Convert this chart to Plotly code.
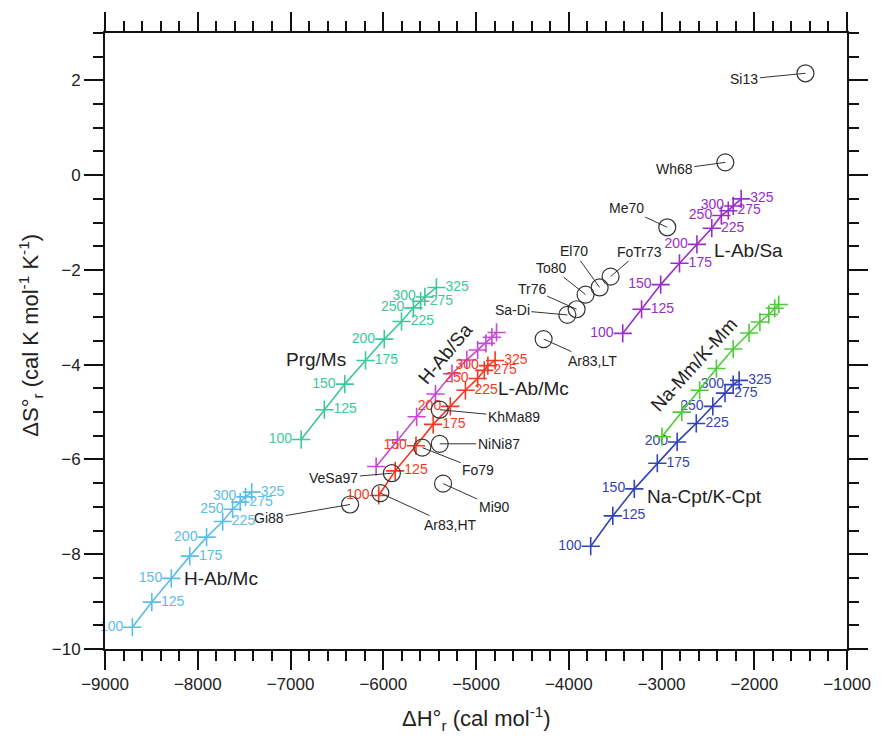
import plotly.graph_objects as go

# Temperatures (°C) marked along each reaction curve
temps = [100, 125, 150, 175, 200, 225, 250, 275, 300, 325]

# ΔH°r (cal/mol) and ΔS°r (cal/K/mol) for each reaction
habmc_h = [-8705, -8495, -8285, -8086, -7905, -7731, -7624, -7542, -7485, -7418]
habmc_s = [-9.54, -9.01, -8.51, -8.04, -7.64, -7.31, -7.05, -6.90, -6.79, -6.69]

prgms_h = [-6885, -6635, -6415, -6191, -5989, -5803, -5675, -5597, -5551, -5427]
prgms_s = [-5.58, -4.95, -4.41, -3.91, -3.46, -3.09, -2.80, -2.66, -2.57, -2.37]

habsa_h = [-6077, -5846, -5640, -5437, -5259, -5099, -4982, -4893, -4829, -4779]
habsa_s = [-6.15, -5.59, -5.10, -4.62, -4.19, -3.90, -3.69, -3.55, -3.42, -3.32]

labmc_h = [-6049, -5871, -5647, -5462, -5277, -5114, -4982, -4911, -4872, -4794]
labmc_s = [-6.76, -6.24, -5.71, -5.26, -4.88, -4.54, -4.29, -4.12, -4.02, -3.91]

labsa_h = [-3418, -3215, -3009, -2806, -2618, -2458, -2355, -2280, -2227, -2141]
labsa_s = [-3.34, -2.83, -2.31, -1.86, -1.46, -1.12, -0.85, -0.75, -0.65, -0.50]

cpt_h = [-3763, -3525, -3293, -3045, -2831, -2625, -2447, -2315, -2227, -2163]
cpt_s = [-7.83, -7.19, -6.62, -6.08, -5.63, -5.24, -4.88, -4.60, -4.42, -4.33]

mm_h = [-2995, -2781, -2589, -2408, -2227, -2056, -1939, -1843, -1779, -1736]
mm_s = [-5.52, -5.00, -4.54, -4.08, -3.67, -3.33, -3.10, -2.94, -2.81, -2.73]

# Literature determinations (open circles)
lit_names = ["Si13", "Wh68", "Me70", "FoTr73", "El70", "To80", "Tr76", "Sa-Di",
             "Ar83,LT", "KhMa89", "NiNi87", "Fo79", "VeSa97", "Mi90", "Ar83,HT", "Gi88"]
lit_h = [-1448, -2312, -2938, -3549, -3667, -3819, -3915, -4015,
         -4271, -5391, -5391, -5579, -5907, -5355, -6031, -6358]
lit_s = [2.15, 0.27, -1.10, -2.14, -2.37, -2.52, -2.83, -2.95,
         -3.46, -4.95, -5.67, -5.75, -6.29, -6.51, -6.71, -6.95]

# Pixel offsets of each literature label from its circle
lit_offsets = {
    "Si13": (-61, 6), "Wh68": (-51, 7), "Me70": (-41, -19), "FoTr73": (29, -25),
    "El70": (-26, -36), "To80": (-34, -27), "Tr76": (-45, -20), "Sa-Di": (-55, -5),
    "Ar83,LT": (49, 22), "KhMa89": (74, 7), "NiNi87": (59, 0), "Fo79": (56, 22),
    "VeSa97": (-58, 5), "Mi90": (51, 23), "Ar83,HT": (70, 32), "Gi88": (-81, 14),
}

series = [
    # name, H, S, color, show temperature labels
    ("H-Ab/Mc", habmc_h, habmc_s, "#5BBDE8", True),
    ("Prg/Ms", prgms_h, prgms_s, "#3CC89A", True),
    ("H-Ab/Sa", habsa_h, habsa_s, "#C848D8", False),
    ("L-Ab/Mc", labmc_h, labmc_s, "#F03A22", True),
    ("L-Ab/Sa", labsa_h, labsa_s, "#9A2CC8", True),
    ("Na-Cpt/K-Cpt", cpt_h, cpt_s, "#3444B4", True),
    ("Na-Mm/K-Mm", mm_h, mm_s, "#4CCC38", False),
]

# Reaction name labels: (text, H, S, angle)
series_labels = [
    ("H-Ab/Mc", -7752, -8.52, 0),
    ("Prg/Ms", -6728, -3.88, 0),
    ("H-Ab/Sa", -5330, -3.76, -50),
    ("L-Ab/Mc", -4381, -4.50, 0),
    ("L-Ab/Sa", -2067, -1.58, 0),
    ("Na-Mm/K-Mm", -2650, -4.00, -48),
    ("Na-Cpt/K-Cpt", -2536, -6.79, 0),
]

FONT = "Liberation Sans, Arial, sans-serif"

fig = go.Figure()

for name, hs, ss, color, labelled in series:
    pos = ["middle left" if i % 2 == 0 else "middle right" for i in range(len(temps))]
    fig.add_trace(go.Scatter(
        x=hs, y=ss,
        mode="lines+markers+text" if labelled else "lines+markers",
        name=name,
        line=dict(color=color, width=1.6),
        marker=dict(symbol="cross-thin", size=13, line=dict(color=color, width=1.6)),
        text=[str(t) for t in temps] if labelled else None,
        textposition=pos,
        textfont=dict(family=FONT, size=14, color=color),
        showlegend=False,
        cliponaxis=False,
    ))

fig.add_trace(go.Scatter(
    x=lit_h, y=lit_s, mode="markers",
    marker=dict(symbol="circle-open", size=17, color="#333333", line=dict(width=1.2)),
    showlegend=False,
))

annotations = []
for n, h, s in zip(lit_names, lit_h, lit_s):
    ax, ay = lit_offsets[n]
    annotations.append(dict(
        x=h, y=s, xref="x", yref="y", text=n, showarrow=True,
        arrowhead=0, arrowwidth=1, arrowcolor="#333333", standoff=0,
        ax=ax, ay=ay, font=dict(family=FONT, size=14, color="#222222"),
    ))

for text, h, s, ang in series_labels:
    annotations.append(dict(
        x=h, y=s, xref="x", yref="y", text=text, showarrow=False,
        textangle=ang, font=dict(family=FONT, size=19, color="#222222"),
    ))

annotations.append(dict(
    x=0.5, y=-0.113, xref="paper", yref="paper", showarrow=False,
    text="ΔH°<sub>r</sub> (cal mol<sup>-1</sup>)", yanchor="middle",
    font=dict(family=FONT, size=22, color="#222222"),
))
annotations.append(dict(
    x=-0.1, y=0.51, xref="paper", yref="paper", showarrow=False,
    text="ΔS°<sub>r</sub> (cal K mol<sup>-1</sup> K<sup>-1</sup>)", textangle=-90,
    xanchor="center", font=dict(family=FONT, size=22, color="#222222"),
))

axis_common = dict(
    showgrid=False, zeroline=False, showline=True, linecolor="#111111", linewidth=2,
    mirror="allticks", ticks="outside", ticklen=19, tickwidth=2, tickcolor="#111111",
    tickfont=dict(family=FONT, size=17, color="#222222"),
)

fig.update_xaxes(
    range=[-9000, -1000], tick0=-9000, dtick=1000,
    minor=dict(ticks="outside", ticklen=10, tickwidth=2, dtick=200, tick0=-9000,
               tickcolor="#111111"),
    **axis_common,
)
fig.update_yaxes(
    range=[-10, 3], tick0=-10, dtick=2,
    minor=dict(ticks="outside", ticklen=10, tickwidth=2, dtick=0.5, tick0=-10,
               tickcolor="#111111"),
    **axis_common,
)

fig.update_layout(
    width=883, height=736,
    margin=dict(l=105, r=28, t=25, b=87),
    plot_bgcolor="white", paper_bgcolor="white",
    annotations=annotations,
)

fig.write_html("out.html")
